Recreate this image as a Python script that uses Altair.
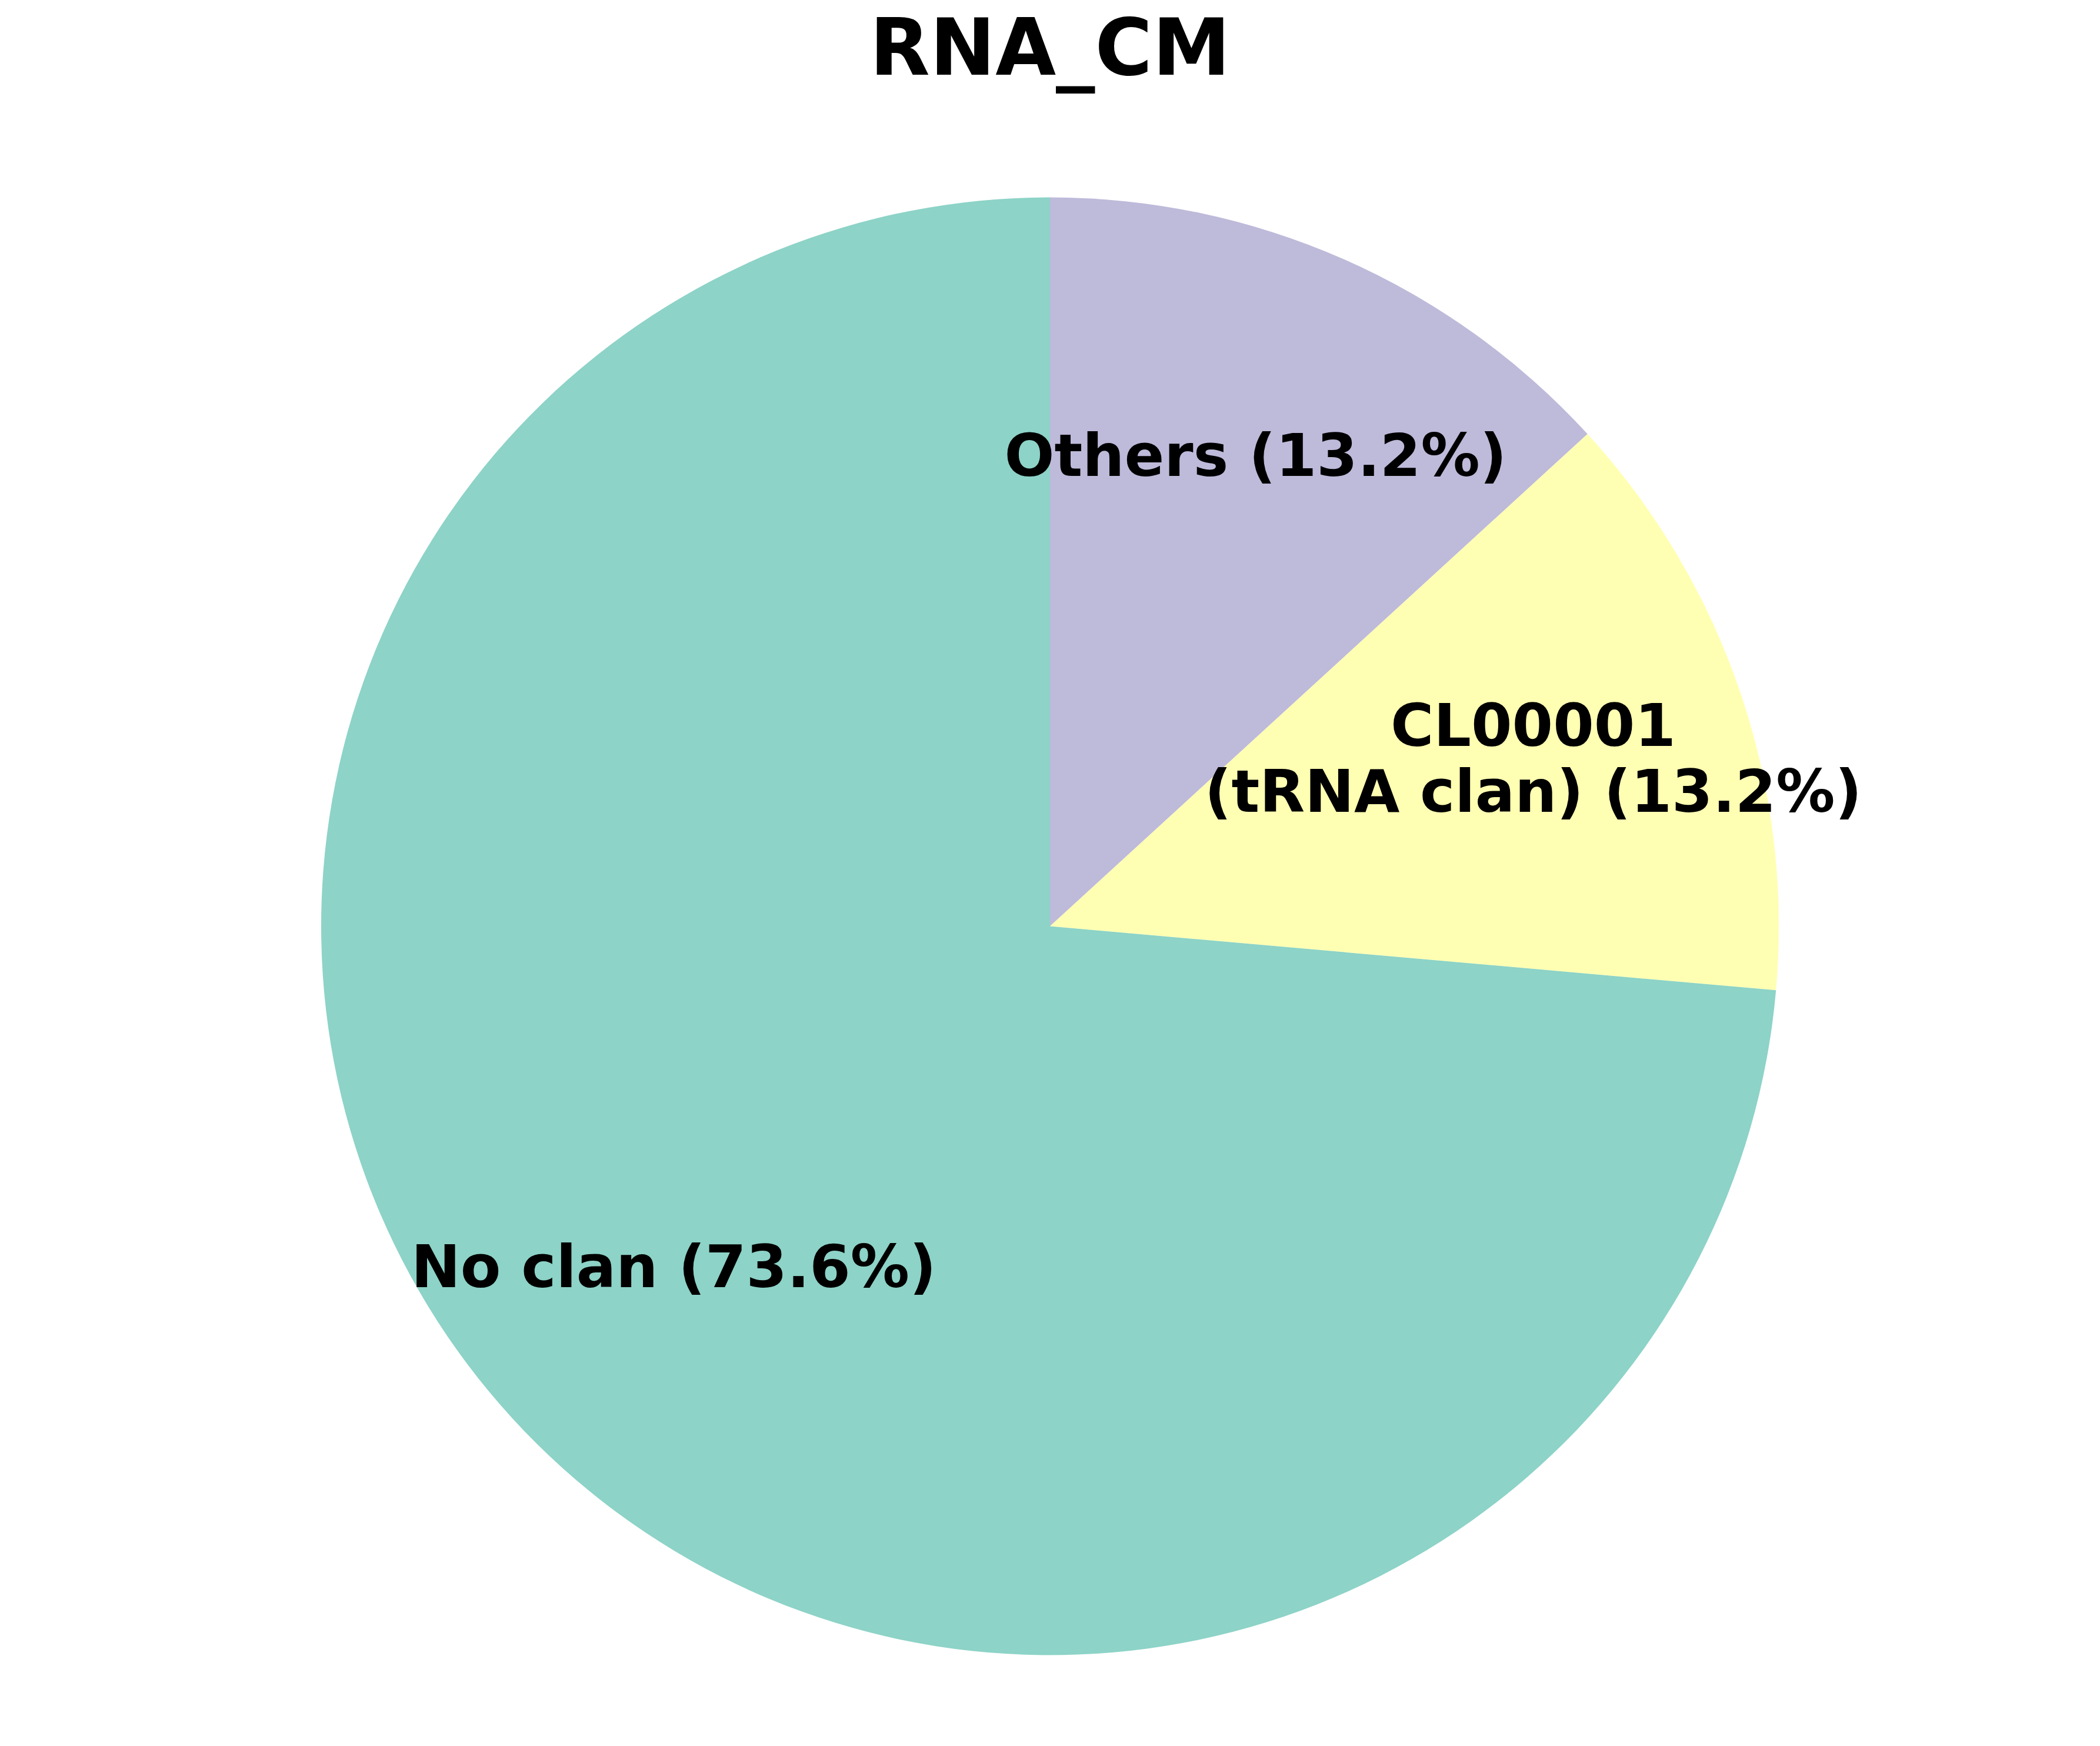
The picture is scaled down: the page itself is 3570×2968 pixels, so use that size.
import altair as alt
import pandas as pd

# Data (clockwise from 12 o'clock)
categories = ["Others", "CL00001\n(tRNA clan)", "No clan"]
percents = [13.2, 13.2, 73.6]
colors = ["#bebada", "#ffffb3", "#8dd3c7"]

df = pd.DataFrame({
    "category": categories,
    "pct": percents,
    "order": list(range(len(categories))),
})
df["label"] = [f"{c} ({p:.1f}%)" for c, p in zip(categories, percents)]

R = 1239
W = 3554
T = 180
H = 2773
FS = 100
LH = 112

arcs = alt.Chart(df).mark_arc(outerRadius=R, strokeWidth=0).encode(
    theta=alt.Theta("pct:Q", stack=True),
    order=alt.Order("order:Q", sort="ascending"),
    color=alt.Color("category:N", scale=alt.Scale(domain=categories, range=colors), legend=None),
)

text_base = (
    alt.Chart(df)
    .transform_window(cum="sum(pct)", sort=[alt.SortField("order", order="ascending")], frame=[None, 0])
    .transform_calculate(mid="datum.cum - datum.pct / 2",
                         nlines="length(split(datum.label, '\\n'))")
)

def label_layer(n):
    return text_base.transform_filter(f"datum.nlines == {n}").mark_text(
        radius=0.7 * R,
        font="DejaVu Sans",
        fontSize=FS,
        fontWeight="bold",
        color="black",
        align="center",
        baseline="middle",
        lineBreak="\n",
        lineHeight=LH,
        dy=-2 - (n - 1) * LH / 2,
    ).encode(
        theta=alt.Theta("mid:Q"),
        text="label:N",
    )

chart = (
    alt.layer(arcs, label_layer(1), label_layer(2))
    .properties(
        width=W,
        height=H,
        padding={"top": T, "left": 0, "right": 0, "bottom": 0},
        autosize=alt.AutoSizeParams(type="none"),
        title=alt.TitleParams(
            "RNA_CM",
            font="DejaVu Sans",
            fontSize=133,
            fontWeight="bold",
            color="black",
            anchor="middle",
            baseline="alphabetic",
            offset=-72,
        ),
    )
    .configure_view(strokeWidth=0)
)

chart.save("out.html", embed_options={"renderer": "svg", "actions": False})
